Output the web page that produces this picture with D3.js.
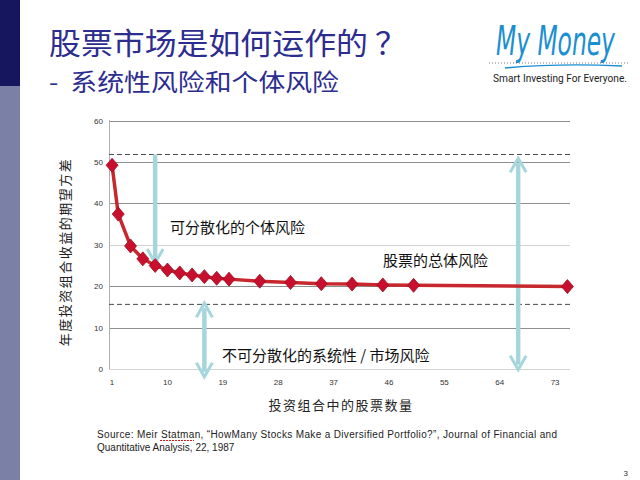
<!DOCTYPE html>
<html>
<head>
<meta charset="utf-8">
<script src="https://cdn.jsdelivr.net/npm/d3@7"></script>
<style>
  body { margin: 0; background: #fff; }
  svg { display: block; }
</style>
</head>
<body>
<svg id="slide" width="640" height="480"></svg>
<script>
// data (Statman 1987)
var stockCounts = [1, 2, 4, 6, 8, 10, 12, 14, 16, 18, 20, 25, 30, 35, 40, 45, 50, 75];
var riskValues = [49.2, 37.4, 29.7, 26.6, 25.0, 23.9, 23.2, 22.7, 22.3, 21.9, 21.7, 21.2, 20.9, 20.6, 20.5, 20.3, 20.2, 19.9];
var xTickLabels = [1, 10, 19, 28, 37, 46, 55, 64, 73];
var yTickValues = [0, 10, 20, 30, 40, 50, 60];
var totalRiskLevel = 51.8;   // upper dashed line
var marketRiskLevel = 15.6;  // lower dashed line

var svg = d3.select("#slide");
var cjk = "'Noto Sans CJK SC', 'Noto Sans', sans-serif";

// left bar ------------------------------------------------------------
svg.append("rect").attr("x", 0).attr("y", 0).attr("width", 20).attr("height", 86).attr("fill", "#16165e");
svg.append("rect").attr("x", 0).attr("y", 86).attr("width", 20).attr("height", 394).attr("fill", "#7a80a6");

// titles --------------------------------------------------------------
svg.append("text").attr("x", 49).attr("y", 54)
    .style("font-family", cjk).style("font-size", "30px").attr("fill", "#2d2d8f")
    .attr("xml:space", "preserve")
    .attr("textLength", 358).attr("lengthAdjust", "spacingAndGlyphs")
    .text("股票市场是如何运作的 ？");
svg.append("text").attr("x", 49).attr("y", 91)
    .style("font-family", cjk).style("font-size", "24px").attr("fill", "#2d2d8f")
    .attr("xml:space", "preserve")
    .attr("textLength", 290).attr("lengthAdjust", "spacingAndGlyphs")
    .text("-  系统性风险和个体风险");

// logo ----------------------------------------------------------------
var logo = svg.append("g");
logo.append("text")
    .attr("transform", "translate(496,55) scale(1,1.6)")
    .style("font-family", "'DejaVu Sans Condensed', 'DejaVu Sans', sans-serif")
    .style("font-style", "italic").style("font-size", "26px").attr("fill", "#1b8fd2")
    .text("My Money");
logo.append("line").attr("x1", 489).attr("x2", 630).attr("y1", 63).attr("y2", 63)
    .attr("stroke", "#555").attr("stroke-dasharray", "1,2").attr("stroke-width", 0.8);
logo.append("path").attr("d", "M505,68 Q560,63 622,66")
    .attr("fill", "none").attr("stroke", "#1b8fd2").attr("stroke-width", 1.5);
logo.append("text").attr("x", 493).attr("y", 82)
    .style("font-family", "'Liberation Sans Narrow', 'Roboto', sans-serif")
    .style("font-size", "11px").attr("fill", "#222")
    .attr("textLength", 134).attr("lengthAdjust", "spacingAndGlyphs")
    .text("Smart Investing For Everyone.");

// chart ---------------------------------------------------------------
var x = d3.scaleBand()
    .domain(d3.range(1, 76))
    .range([109, 570.5]);
var y = d3.scaleLinear()
    .domain([0, 60])
    .range([369, 120.5]);
var cx = function(v) { return x(v) + x.bandwidth() / 2; };

// gridlines
svg.append("g").selectAll("line")
    .data(yTickValues)
    .enter().append("line")
    .attr("x1", 109).attr("x2", 570)
    .attr("y1", function(d) { return Math.round(y(d)) + 0.5; })
    .attr("y2", function(d) { return Math.round(y(d)) + 0.5; })
    .attr("stroke", function(d) { return (d === 0 || d === 30) ? "#d4d4d4" : "#8e8e8e"; })
    .attr("stroke-width", 1);

// y axis line
svg.append("line").attr("x1", 109.5).attr("x2", 109.5).attr("y1", 120).attr("y2", 369)
    .attr("stroke", "#b0b0b0");

// y axis labels
var yAxis = svg.append("g")
    .attr("transform", "translate(103,0)")
    .call(d3.axisLeft(y).tickValues(yTickValues).tickSize(0).tickPadding(0));
yAxis.select(".domain").remove();
yAxis.selectAll("text").style("font-family", "'Liberation Sans', Arial, sans-serif")
    .style("font-size", "8px").attr("fill", "#333");

// x axis labels
var xAxis = svg.append("g")
    .attr("transform", "translate(0,379)")
    .call(d3.axisBottom(x).tickValues(xTickLabels).tickSize(0).tickPadding(0));
xAxis.select(".domain").remove();
xAxis.selectAll("text").style("font-family", "'Liberation Sans', Arial, sans-serif")
    .style("font-size", "8px").attr("fill", "#333");

// dashed reference lines
svg.append("g").selectAll("line")
    .data([totalRiskLevel, marketRiskLevel])
    .enter().append("line")
    .attr("x1", 109).attr("x2", 570)
    .attr("y1", function(d) { return y(d); })
    .attr("y2", function(d) { return y(d); })
    .attr("stroke", "#4a4a4a").attr("stroke-width", 1)
    .attr("stroke-dasharray", "5,3");

// arrows
var arrowColor = "#a6d6dc";
function chevron(g, px, py, dir) {
    // dir = 1 points down, -1 points up
    g.append("path")
        .attr("d", "M" + (px - 8) + "," + (py - dir * 14) + " L" + px + "," + py + " L" + (px + 8) + "," + (py - dir * 14))
        .attr("fill", "none").attr("stroke", arrowColor).attr("stroke-width", 3);
}
function arrow(cat, fromV, toV, twoWay) {
    var g = svg.append("g");
    var px = cx(cat);
    var y0 = y(fromV), y1 = y(toV);
    g.append("line").attr("x1", px).attr("x2", px)
        .attr("y1", twoWay ? y0 + 5 : y0).attr("y2", y1 - 5)
        .attr("stroke", arrowColor).attr("stroke-width", 4.5);
    chevron(g, px, y1, 1);
    if (twoWay) chevron(g, px, y0, -1);
}
arrow(8, totalRiskLevel, 25.6, false);
arrow(16, 15.9, -1.9, true);
arrow(67, 50.9, -0.2, true);

// series line
var line = d3.line()
    .x(function(d, i) { return cx(stockCounts[i]); })
    .y(function(d) { return y(d); });
svg.append("path")
    .datum(riskValues)
    .attr("d", line)
    .attr("fill", "none")
    .attr("stroke", "#c6282e")
    .attr("stroke-width", 3.5)
    .attr("stroke-linejoin", "round");

// diamond markers
svg.append("g").selectAll("path")
    .data(riskValues)
    .enter().append("path")
    .attr("transform", function(d, i) { return "translate(" + cx(stockCounts[i]) + "," + y(d) + ")"; })
    .attr("d", "M0,-7 L6,0 L0,7 L-6,0 Z")
    .attr("fill", "#c8102e")
    .attr("stroke", "#9a0c22").attr("stroke-width", 0.8);

// annotation text
svg.append("text").attr("x", 170).attr("y", 233)
    .style("font-family", cjk).style("font-size", "15px").attr("fill", "#111")
    .text("可分散化的个体风险");
svg.append("text").attr("x", 383).attr("y", 266)
    .style("font-family", cjk).style("font-size", "15px").attr("fill", "#111")
    .text("股票的总体风险");
svg.append("text").attr("x", 222).attr("y", 361)
    .style("font-family", cjk).style("font-size", "15px").attr("fill", "#111")
    .text("不可分散化的系统性 / 市场风险");

// axis titles
svg.append("text")
    .attr("transform", "translate(70,252) rotate(-90)")
    .attr("text-anchor", "middle")
    .style("font-family", cjk).style("font-size", "13px").style("letter-spacing", "1.5px")
    .attr("fill", "#222")
    .text("年度投资组合收益的期望方差");
svg.append("text").attr("x", 341).attr("y", 410)
    .attr("text-anchor", "middle")
    .style("font-family", cjk).style("font-size", "13px").style("letter-spacing", "1.5px")
    .attr("fill", "#222")
    .text("投资组合中的股票数量");

// source note
var src = svg.append("text")
    .style("font-family", "'Liberation Sans', Arial, sans-serif")
    .style("font-size", "10px").attr("fill", "#222");
src.append("tspan").attr("x", 97).attr("y", 438)
    .attr("textLength", 460).attr("lengthAdjust", "spacing")
    .text("Source: Meir Statman, \u201CHowMany Stocks Make a Diversified Portfolio?\u201D, Journal of Financial and");
src.append("tspan").attr("x", 97).attr("y", 451)
    .text("Quantitative Analysis, 22, 1987");
svg.append("line").attr("x1", 160).attr("x2", 194).attr("y1", 440.5).attr("y2", 440.5)
    .attr("stroke", "#d02020").attr("stroke-width", 1).attr("stroke-dasharray", "2,1");

// page number
svg.append("text").attr("x", 628).attr("y", 476).attr("text-anchor", "end")
    .style("font-family", "'Liberation Sans', Arial, sans-serif")
    .style("font-size", "8px").attr("fill", "#333")
    .text("3");
</script>
</body>
</html>
